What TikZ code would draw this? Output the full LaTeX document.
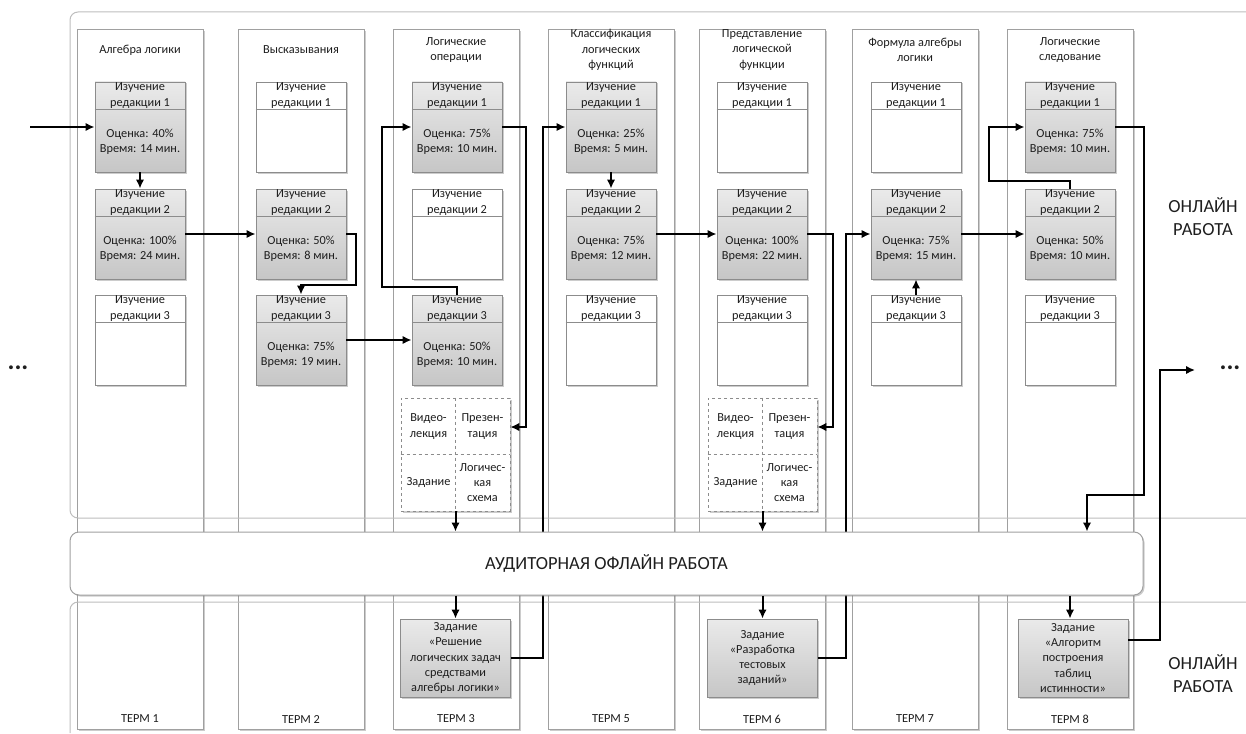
\documentclass[tikz,border=0pt]{standalone}
\usepackage{fontspec}
\setmainfont{Carlito}
\usetikzlibrary{arrows.meta,calc,shadows}
\definecolor{lanegray}{HTML}{A0A0A0}
\definecolor{panelgray}{HTML}{BDBDBD}
\definecolor{boxgray}{HTML}{8C8C8C}
\definecolor{filltop}{HTML}{EAEAEA}
\definecolor{fillbot}{HTML}{C6C6C6}
\definecolor{ink}{HTML}{1E1E1E}

% one lane per term: frame, topic title, term label
\newcommand\mklane[4]{%
  \node[lane] (#1) at (#2,379.5) {};
  \node[txt] (#1-h) at (#2,50) {#3};
  \node[txt] (#1-t) at (#2,719) {#4};
}
% study box: name, x, y, fill style, edition number
\newcommand\mkbox[5]{%
  \node[sbox,#4] (#1) at (#2,#3) {};
  \draw[sep] ($(#1.north west)+(0,28)$) -- ($(#1.north east)+(0,28)$);
  \node[txt] (#1-h) at ($(#1.north)+(0,14)$) {Изучение\\редакции #5};
}
% result lines inside a study box
\newcommand\mkscore[3]{%
  \node[txt] (#1-s) at ($(#1.south)+(0,-31)$) {Оценка: #2\%\\Время: #3 мин.};
}
% dashed block of learning resources
\newcommand\mkres[3]{%
  \node[res] (#1) at (#2,#3) {};
  \draw[resline] (#1.north) -- (#1.south) (#1.west) -- (#1.east);
  \node[txt] (#1-a) at ($(#1.center)+(-27,-28)$) {Видео-\\лекция};
  \node[txt] (#1-b) at ($(#1.center)+(27,-28)$) {Презен-\\тация};
  \node[txt] (#1-c) at ($(#1.center)+(-27,28)$) {Задание};
  \node[txt] (#1-d) at ($(#1.center)+(27,28)$) {Логичес-\\кая\\схема};
}

\begin{document}
\begin{tikzpicture}[x=1pt,y=-1pt,
  softshadow/.style={drop shadow={shadow xshift=1.5pt,shadow yshift=-1.5pt,opacity=0.4}},
  lane/.style={draw=lanegray,fill=white,line width=1pt,minimum width=126,minimum height=699,inner sep=0,softshadow},
  panel/.style={draw=panelgray,line width=1pt,rounded corners=8pt},
  sbox/.style={draw=boxgray,line width=0.9pt,minimum width=90,minimum height=90,inner sep=0,softshadow},
  graybox/.style={top color=filltop,bottom color=fillbot},
  plainbox/.style={fill=white},
  sep/.style={draw=boxgray,line width=0.9pt},
  txt/.style={align=center,inner sep=0,text=ink,font=\fontsize{12.3}{15.3}\selectfont},
  res/.style={draw=boxgray,dashed,fill=white,line width=0.6pt,minimum width=109,minimum height=113,inner sep=0,softshadow},
  resline/.style={draw=boxgray,dashed,line width=0.6pt},
  task/.style={sbox,graybox,txt,minimum width=110,minimum height=78},
  band/.style={draw=lanegray,fill=white,line width=1pt,rounded corners=9pt,minimum width=1073,minimum height=63,inner sep=0,softshadow,text=ink,font=\fontsize{18.5}{22}\selectfont},
  big/.style={align=center,inner sep=0,text=ink,font=\fontsize{18.5}{23}\selectfont},
  dots/.style={inner sep=0,text=ink,font=\fontsize{26}{26}\selectfont\bfseries},
  arr/.style={draw=black,line width=2pt,-{Latex[length=9pt,width=8.5pt]}}
]
\useasboundingbox (0,0) rectangle (1246,733);

% lanes
\mklane{l1}{140}{Алгебра логики}{ТЕРМ 1}
\mklane{l2}{301}{Высказывания}{ТЕРМ 2}
\mklane{l3}{456}{Логические\\операции}{ТЕРМ 3}
\mklane{l5}{611}{Классификация\\логических\\функций}{ТЕРМ 5}
\mklane{l6}{762}{Представление\\логической\\функции}{ТЕРМ 6}
\mklane{l7}{915}{Формула алгебры\\логики}{ТЕРМ 7}
\mklane{l8}{1070}{Логические\\следование}{ТЕРМ 8}

% online work panels
\draw[panel] (1246,12) -- (70,12) -- (70,518) -- (1246,518);
\draw[panel] (1246,602) -- (70,602) -- (70,733);

% study boxes
\mkbox{c1r1}{140}{127}{graybox}{1} \mkscore{c1r1}{40}{14}
\mkbox{c1r2}{140}{234}{graybox}{2} \mkscore{c1r2}{100}{24}
\mkbox{c1r3}{140}{340}{plainbox}{3}

\mkbox{c2r1}{301}{127}{plainbox}{1}
\mkbox{c2r2}{301}{234}{graybox}{2} \mkscore{c2r2}{50}{8}
\mkbox{c2r3}{301}{340}{graybox}{3} \mkscore{c2r3}{75}{19}

\mkbox{c3r1}{457}{127}{graybox}{1} \mkscore{c3r1}{75}{10}
\mkbox{c3r2}{457}{234}{plainbox}{2}
\mkbox{c3r3}{457}{340}{graybox}{3} \mkscore{c3r3}{50}{10}

\mkbox{c5r1}{611}{127}{graybox}{1} \mkscore{c5r1}{25}{5}
\mkbox{c5r2}{611}{234}{graybox}{2} \mkscore{c5r2}{75}{12}
\mkbox{c5r3}{611}{340}{plainbox}{3}

\mkbox{c6r1}{762}{127}{plainbox}{1}
\mkbox{c6r2}{762}{234}{graybox}{2} \mkscore{c6r2}{100}{22}
\mkbox{c6r3}{762}{340}{plainbox}{3}

\mkbox{c7r1}{916}{127}{plainbox}{1}
\mkbox{c7r2}{916}{234}{graybox}{2} \mkscore{c7r2}{75}{15}
\mkbox{c7r3}{916}{340}{plainbox}{3}

\mkbox{c8r1}{1070}{127}{graybox}{1} \mkscore{c8r1}{75}{10}
\mkbox{c8r2}{1070}{234}{graybox}{2} \mkscore{c8r2}{50}{10}
\mkbox{c8r3}{1070}{340}{plainbox}{3}

% resource blocks
\mkres{r3}{455.5}{454.5}
\mkres{r6}{762.5}{454.5}

% assignments
\node[task] (t3) at (455.5,658) {Задание\\«Решение\\логических задач\\средствами\\алгебры логики»};
\node[task] (t6) at (762.5,658) {Задание\\«Разработка\\тестовых\\заданий»};
\node[task] (t8) at (1073,658) {Задание\\«Алгоритм\\построения\\таблиц\\истинности»};

% side labels
\node[big] (on1) at (1203,217) {ОНЛАЙН\\РАБОТА};
\node[big] (on2) at (1203,674) {ОНЛАЙН\\РАБОТА};
\node[dots] (dl) at (18,368) {...};
\node[dots] (dr) at (1230,368) {...};

% route through the online part
\coordinate (entry) at (30,127);
\coordinate (nx) at (1195,370);
\coordinate (k20) at (1087,495);
\draw[arr] (entry) -- (c1r1.west);
\draw[arr] (c1r1.south) -- (c1r2.north);
\draw[arr] (c1r2.east) -- (c2r2.west);
\draw[arr] (c2r2.east) -| (356,285) -| (c2r3.north);
\draw[arr] (c2r3.east) -- (c3r3.west);
\draw[arr] (c3r3.north) |- (382,287) |- (c3r1.west);
\draw[arr] (c3r1.east) -| ($(r3.east)+(16,-27.5)$) -- ($(r3.east)+(0,-27.5)$);
\draw[arr] (t3.east) -- ++(32,0) |- (c5r1.west);
\draw[arr] (c5r1.south) -- (c5r2.north);
\draw[arr] (c5r2.east) -- (c6r2.west);
\draw[arr] (c6r2.east) -| ($(r6.east)+(16,-27.5)$) -- ($(r6.east)+(0,-27.5)$);
\draw[arr] (t6.east) -- ++(28,0) |- (c7r2.west);
\draw[arr] (c7r3.north) -- (c7r2.south);
\draw[arr] (c7r2.east) -- (c8r2.west);
\draw[arr] (c8r2.north) |- (989,181) |- (c8r1.west);
\draw[arr] ($(t8.east)+(0,-18)$) -- ++(32,0) |- (nx);

% classroom offline work
\node[band] (band) at (606.5,563.5) {АУДИТОРНАЯ ОФЛАЙН РАБОТА};

\draw[arr] (r3.south) -- (r3.south |- band.north);
\draw[arr] (band.south -| t3.north) -- (t3.north);
\draw[arr] (r6.south) -- (r6.south |- band.north);
\draw[arr] (band.south -| t6.north) -- (t6.north);
\draw[arr] (c8r1.east) -| (1144,495) -- (k20) -- (k20 |- band.north);
\draw[arr] (band.south -| c8r3.south) -- (c8r3.south |- t8.north);
\end{tikzpicture}
\end{document}
